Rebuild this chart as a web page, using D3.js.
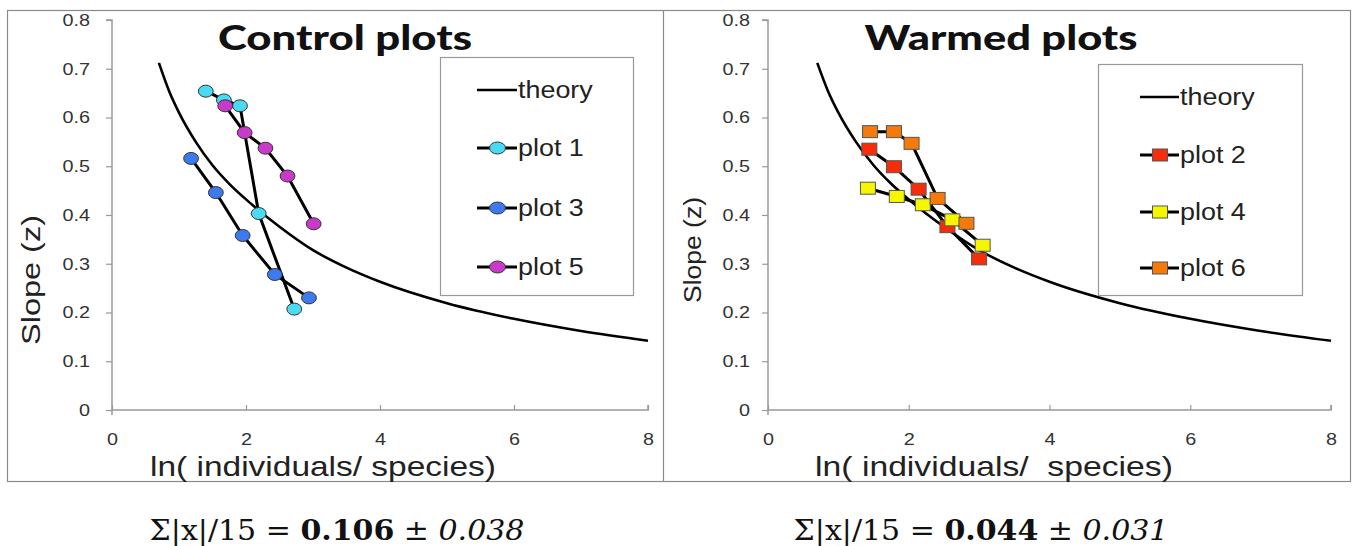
<!DOCTYPE html>
<html><head><meta charset="utf-8">
<script src="https://cdn.jsdelivr.net/npm/d3@7"></script>
<style>body{margin:0;background:#fff}svg{display:block}</style>
</head><body>
<svg id="c" width="1352" height="546"></svg>
<script>
// ---- data ----
const xTicks = [0, 2, 4, 6, 8];
const yTicks = [0, 0.1, 0.2, 0.3, 0.4, 0.5, 0.6, 0.7, 0.8];
const theoryX = [0.7, 0.85, 1, 1.25, 1.5, 1.75, 2, 2.5, 3, 3.5, 4, 5, 6, 7, 8];
const theoryZ = [0.712, 0.655, 0.61, 0.55, 0.502, 0.464, 0.432, 0.376, 0.328, 0.292, 0.263, 0.219, 0.187, 0.162, 0.142];

const plot1X = [1.40, 1.67, 1.91, 2.19, 2.72];
const plot1Z = [0.654, 0.636, 0.624, 0.403, 0.207];
const plot3X = [1.18, 1.55, 1.95, 2.43, 2.94];
const plot3Z = [0.516, 0.446, 0.358, 0.278, 0.230];
const plot5X = [1.69, 1.98, 2.29, 2.62, 3.01];
const plot5Z = [0.624, 0.569, 0.537, 0.480, 0.382];

const plot2X = [1.44, 1.79, 2.14, 2.55, 3.00];
const plot2Z = [0.535, 0.499, 0.453, 0.376, 0.310];
const plot4X = [1.42, 1.83, 2.20, 2.62, 3.05];
const plot4Z = [0.455, 0.438, 0.421, 0.390, 0.338];
const plot6X = [1.45, 1.79, 2.04, 2.41, 2.82];
const plot6Z = [0.571, 0.571, 0.547, 0.434, 0.383];

const controlNames = ["plot 1", "plot 3", "plot 5"];
const controlColors = ["#4ADAF4", "#3C7AF2", "#CA3ACA"];
const warmedNames = ["plot 2", "plot 4", "plot 6"];
const warmedColors = ["#F62C0A", "#F6F600", "#F67A0A"];

const panelTitles = ["Control plots", "Warmed plots"];
const xTitles = ["ln( individuals/ species)", "ln( individuals/\u00a0 species)"];
const yTitle = "Slope (z)";
const stats = [["0.106", "0.038"], ["0.044", "0.031"]];

// ---- helpers ----
const svg = d3.select("#c");
const zip = (xs, zs) => xs.map((x, i) => ({x, z: zs[i]}));
function hscale(sel, s) {
  sel.each(function () {
    const t = d3.select(this);
    const x0 = +t.attr("x") || 0;
    const prev = t.attr("transform") || "";
    t.attr("transform", `${prev} translate(${x0},0) scale(${s},1) translate(${-x0},0)`);
  });
}
function fitW(sel, w) { hscale(sel, w / sel.node().getComputedTextLength()); }
const SANS = "Liberation Sans, Arial, sans-serif";

// panel borders
const borderCol = "#8a8a8a";
svg.append("rect").attr("x", 7.5).attr("y", 10.5).attr("width", 1343).attr("height", 471)
  .attr("fill", "none").attr("stroke", borderCol).attr("stroke-width", 1.2);
svg.append("line").attr("x1", 663.5).attr("x2", 663.5).attr("y1", 10.5).attr("y2", 481.5)
  .attr("stroke", borderCol).attr("stroke-width", 1.2);

const panels = [
  {x0: 112, x1: 648, titleX: 345, titleW: 254,
   legend: {x: 440, y: 57, w: 193, h: 238, ys: [90, 148, 208, 267], lx: 477, tx: 518},
   series: [zip(plot1X, plot1Z), zip(plot3X, plot3Z), zip(plot5X, plot5Z)], names: controlNames, colors: controlColors,
   shape: "circle", yTitleX: 31, yTitleY: 280, yTitleLen: 130, yTitleSize: 25, yPad: 16,
   xTitleX: 323, xTitleW: 346, statX: 337},
  {x0: 768, x1: 1331, titleX: 1001, titleW: 273,
   legend: {x: 1098, y: 64, w: 204, h: 231, ys: [97, 155, 212, 268], lx: 1140, tx: 1180},
   series: [zip(plot2X, plot2Z), zip(plot4X, plot4Z), zip(plot6X, plot6Z)], names: warmedNames, colors: warmedColors,
   shape: "square", yTitleX: 693, yTitleY: 250, yTitleLen: 106, yTitleSize: 23, yPad: 12,
   xTitleX: 994, xTitleW: 358, statX: 981}
];

const y0 = 410, y1 = 20;

panels.forEach((p, pi) => {
  const x = d3.scaleLinear().domain([0, 8]).range([p.x0, p.x1]);
  const y = d3.scaleLinear().domain([0, 0.8]).range([y0, y1]);
  const g = svg.append("g");

  // y axis
  const ya = g.append("g").attr("transform", `translate(${p.x0},0)`)
    .call(d3.axisLeft(y).tickValues(yTicks).tickSize(6).tickPadding(p.yPad).tickFormat(d => d === 0 ? "0" : d3.format(".1f")(d)));
  // x axis
  const xa = g.append("g").attr("transform", `translate(0,${y0})`)
    .call(d3.axisBottom(x).tickValues(xTicks).tickSize(-5).tickPadding(23));
  [ya, xa].forEach(a => {
    a.select(".domain").attr("stroke", "#999").attr("stroke-width", 1.5);
    a.selectAll(".tick line").attr("stroke", "#999").attr("stroke-width", 1.2);
    a.selectAll("text").attr("font-family", SANS).attr("font-size", 16.5).attr("fill", "#333");
    hscale(a.selectAll(".tick text"), 1.2);
  });
  xa.selectAll(".tick text").attr("dy", "0.71em");
  xa.select(".domain").attr("d", `M${p.x0},0H${p.x1}V-5`);
  ya.select(".domain").attr("d", `M-6,${y1}H0V${y0 + 5}`);

  // titles
  const tt = g.append("text").attr("x", p.titleX).attr("y", 50).attr("text-anchor", "middle")
    .attr("font-family", "Lato, sans-serif").attr("font-weight", 900).attr("font-size", 34)
    .attr("fill", "#111").text(panelTitles[pi]);
  fitW(tt, p.titleW);
  const yt = g.append("text").attr("text-anchor", "middle").attr("dy", "0.35em")
    .attr("font-family", SANS).attr("font-size", p.yTitleSize).attr("fill", "#222").text(yTitle);
  const ylen = yt.node().getComputedTextLength();
  yt.attr("transform", `translate(${p.yTitleX},${p.yTitleY}) rotate(-90) scale(${p.yTitleLen / ylen},1)`);
  const xt = g.append("text").attr("x", p.xTitleX).attr("y", 476).attr("text-anchor", "middle")
    .attr("font-family", SANS).attr("font-size", 27).attr("fill", "#222")
    .text(xTitles[pi]);
  fitW(xt, p.xTitleW);

  // stats
  const st = g.append("text").attr("x", p.statX).attr("y", 540).attr("text-anchor", "middle")
    .attr("font-family", "DejaVu Serif, Liberation Serif, serif").attr("font-size", 27).attr("fill", "#111");
  st.append("tspan").text("\u03A3|x|/15 = ");
  st.append("tspan").attr("font-weight", "bold").text(stats[pi][0]);
  st.append("tspan").text(" \u00B1 ");
  st.append("tspan").attr("font-style", "italic").text(stats[pi][1]);
  fitW(st, 375);

  // theory
  const line = d3.line().x(d => x(d.x)).y(d => y(d.z));
  g.append("path").datum(zip(theoryX, theoryZ)).attr("d", line.curve(d3.curveMonotoneX))
    .attr("fill", "none").attr("stroke", "#000").attr("stroke-width", 2.6);

  const lineS = d3.line().x(d => x(d.x)).y(d => y(d.z));
  const drawMarker = (sel, cx, cy, col, big) => {
    if (p.shape === "circle") {
      sel.append("ellipse").attr("cx", cx).attr("cy", cy).attr("rx", big ? 8 : 7.4).attr("ry", 6)
        .attr("fill", col).attr("stroke", "#333").attr("stroke-width", 1);
    } else {
      sel.append("rect").attr("x", cx - 7.5).attr("y", cy - 6).attr("width", 15).attr("height", 12)
        .attr("fill", col).attr("stroke", "#555").attr("stroke-width", 1);
    }
  };
  p.series.forEach(s => {
    g.append("path").datum(s).attr("d", lineS).attr("fill", "none").attr("stroke", "#000").attr("stroke-width", 3);
  });
  p.series.forEach((s, si) => {
    const mg = g.append("g");
    s.forEach(d => drawMarker(mg, x(d.x), y(d.z), p.colors[si], false));
  });

  // legend
  const L = p.legend;
  g.append("rect").attr("x", L.x + 0.5).attr("y", L.y + 0.5).attr("width", L.w).attr("height", L.h)
    .attr("fill", "#fff").attr("stroke", "#999").attr("stroke-width", 1.2);
  const items = ["theory"].concat(p.names);
  items.forEach((name, i) => {
    const cy = L.ys[i];
    g.append("line").attr("x1", L.lx).attr("x2", L.tx - 1).attr("y1", cy).attr("y2", cy)
      .attr("stroke", "#000").attr("stroke-width", i === 0 ? 2.6 : 3);
    if (i > 0) drawMarker(g.append("g"), (L.lx + L.tx) / 2, cy, p.colors[i - 1], true);
    const lt = g.append("text").attr("x", L.tx).attr("y", cy).attr("dy", "0.35em")
      .attr("font-family", SANS).attr("font-size", 23).attr("fill", "#222")
      .text(name);
    hscale(lt, 1.17);
  });
});
</script>
</body></html>
